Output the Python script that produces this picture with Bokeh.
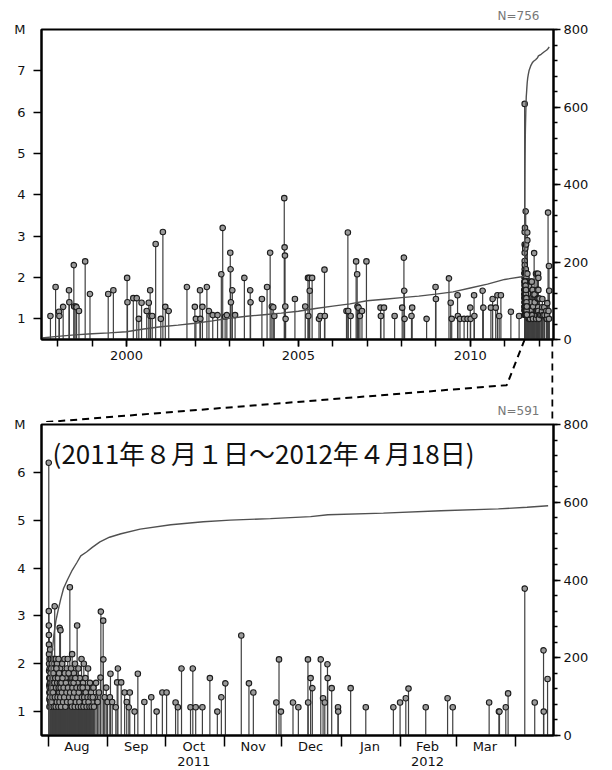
import datetime as dt
from bokeh.plotting import figure
from bokeh.layouts import column
from bokeh.models import Range1d, LinearAxis, FixedTicker, SingleIntervalTicker, Label, ColumnDataSource
from bokeh.embed import file_html
from bokeh.resources import INLINE

# ------------------------------------------------------------------ data
# events before the swarm: decimal year, magnitude
bg_year = [1997.79, 1997.94, 1998.04, 1998.05, 1998.16, 1998.33, 1998.34, 1998.47, 1998.48, 1998.53,
           1998.55, 1998.62, 1998.80, 1998.94, 1999.47, 1999.62, 2000.02, 2000.03, 2000.20, 2000.30,
           2000.36, 2000.44, 2000.59, 2000.65, 2000.69, 2000.70, 2000.75, 2000.85, 2001.00, 2001.06,
           2001.13, 2001.23, 2001.76, 2001.99, 2002.02, 2002.14, 2002.15, 2002.21, 2002.34, 2002.40,
           2002.51, 2002.65, 2002.76, 2002.80, 2002.87, 2002.92, 2003.02, 2003.03, 2003.04, 2003.08,
           2003.16, 2003.43, 2003.60, 2003.61, 2003.94, 2004.09, 2004.18, 2004.23, 2004.27, 2004.30,
           2004.59, 2004.60, 2004.61, 2004.62, 2004.63, 2004.90, 2005.20, 2005.28, 2005.29, 2005.32,
           2005.33, 2005.40, 2005.60, 2005.64, 2005.76, 2005.77, 2006.40, 2006.44, 2006.45, 2006.52,
           2006.68, 2006.71, 2006.72, 2006.75, 2006.79, 2006.85, 2006.98, 2007.39, 2007.40, 2007.49,
           2007.80, 2008.02, 2008.07, 2008.08, 2008.09, 2008.29, 2008.31, 2008.73, 2008.99, 2009.00,
           2009.38, 2009.43, 2009.46, 2009.63, 2009.64, 2009.70, 2009.82, 2009.92, 2010.00, 2010.01,
           2010.11, 2010.12, 2010.36, 2010.38, 2010.60, 2010.65, 2010.74, 2010.79, 2010.84, 2010.89,
           2011.18, 2011.42]
bg_mag = [1.07, 1.77, 1.17, 1.07, 1.29, 1.69, 1.40, 2.30, 1.30, 1.30,
          1.28, 1.19, 2.39, 1.60, 1.60, 1.69, 1.99, 1.40, 1.50, 1.50,
          1.00, 1.39, 1.19, 1.39, 1.69, 1.07, 1.07, 2.81, 1.00, 3.10,
          1.29, 1.19, 1.77, 1.29, 1.00, 1.69, 1.00, 1.29, 1.77, 1.19,
          1.09, 1.09, 2.08, 3.20, 1.05, 1.09, 2.60, 2.20, 1.40, 1.69,
          1.09, 1.99, 1.69, 1.40, 1.48, 1.77, 2.60, 1.30, 1.28, 1.07,
          3.92, 2.73, 2.53, 1.30, 1.00, 1.48, 1.30, 1.99, 1.07, 1.99,
          1.68, 1.99, 1.00, 1.07, 2.19, 1.07, 1.19, 3.09, 1.19, 1.07,
          2.39, 2.08, 1.30, 1.27, 1.07, 1.19, 2.39, 1.27, 1.07, 1.27,
          1.07, 1.27, 2.48, 1.68, 1.00, 1.07, 1.27, 1.00, 1.77, 1.48,
          1.98, 1.39, 1.00, 1.57, 1.07, 1.00, 1.00, 1.00, 1.27, 1.00,
          1.57, 1.07, 1.68, 1.27, 1.27, 1.48, 1.27, 1.57, 1.07, 1.57,
          1.17, 1.07]
# cumulative number before 2011-08-01
bg_cum_year = [1997.53, 1998.0, 1998.5, 1999.0, 1999.5, 2000.0, 2000.5, 2001.0, 2001.5, 2002.0,
               2002.5, 2003.0, 2003.5, 2004.0, 2004.5, 2005.0, 2005.5, 2006.0, 2006.5, 2007.0,
               2007.5, 2008.0, 2008.5, 2009.0, 2009.5, 2010.0, 2010.5, 2011.0, 2011.5, 2011.58]
bg_cum_n = [4, 8, 12, 15, 17, 20, 27, 33, 37, 42,
            48, 55, 60, 64, 68, 73, 80, 86, 92, 100,
            104, 108, 112, 117, 123, 133, 143, 155, 162, 164]

# events from 2011-08-01 00:00 (days since then), magnitude
sw_day = [0.30, 0.32, 0.35, 0.38, 0.41, 0.44, 0.47, 0.50, 0.53, 0.56, 0.59, 0.62, 0.65, 0.70, 0.80,
          0.90, 1.00, 1.10, 1.25, 1.40, 1.55, 1.70, 1.85, 2.00, 2.20, 2.40, 2.60, 2.80, 3.00, 3.40,
          3.60, 3.80, 4.00, 4.20, 4.40, 4.60, 4.80, 5.00, 5.20, 5.40, 5.60, 5.80, 6.00, 6.20, 6.40,
          6.60, 6.80, 7.00, 7.30, 7.60, 7.90, 8.20, 8.50, 8.80, 9.10, 9.40, 9.70, 10.0, 10.2, 10.5,
          10.8, 11.1, 11.3, 11.6, 11.9, 12.2, 12.5, 12.8, 13.1, 13.4, 13.7, 14.0, 14.3, 14.6, 15.1,
          15.4, 15.8, 16.1, 16.5, 16.9, 17.4, 17.8, 18.2, 18.6, 19.0, 19.4, 19.8, 20.3, 20.8, 21.3,
          21.8, 22.4, 23.0, 23.6, 24.3, 25.0, 25.8, 26.5, 27.3, 27.5, 28.7, 28.8, 29.5, 30.3, 31.0,
          32.2, 32.5, 33.4, 35.3, 36.0, 36.4, 38.1, 39.9, 41.0, 42.1, 42.6, 45.1, 46.8, 50.2, 53.8,
          56.6, 59.6, 61.8, 66.5, 67.7, 69.6, 74.3, 75.5, 77.0, 80.5, 84.4, 88.3, 90.4, 92.5, 100.8,
          104.8, 107.1, 119.1, 120.5, 121.5, 127.8, 130.6, 135.6, 135.7, 137.0, 137.9, 142.3, 143.5,
          144.4, 145.8, 145.9, 148.0, 151.3, 151.4, 157.9, 165.8, 180.2, 183.7, 186.7, 188.1, 197.1,
          208.5, 211.2, 230.2, 235.3, 235.6, 238.9, 240.1, 248.8, 254.0, 258.6, 258.7, 260.7,
          0.75, 0.85, 0.95, 1.05, 1.18, 1.32, 1.47, 1.62, 1.78, 1.92, 2.10, 2.30, 2.50, 2.70, 2.90,
          3.20, 3.50, 3.70, 3.90, 4.10, 4.30, 4.50, 4.70, 4.90, 5.10, 5.30, 5.50, 5.70, 5.90, 6.10,
          6.30, 6.50, 6.70, 6.90, 7.15, 7.45, 7.75, 8.05, 8.35, 8.65, 8.95, 9.25, 9.55, 9.85, 10.35,
          10.65, 10.95, 11.45, 11.75, 12.05, 12.35, 12.65, 12.95, 13.25, 13.55, 13.85, 14.15, 14.45,
          14.80, 15.25, 15.60, 15.95, 16.30, 16.70, 17.10, 17.60, 18.00, 18.40, 18.80, 19.20, 19.60,
          20.05, 20.55, 21.05, 21.55, 22.10, 22.70, 23.30, 23.90]
sw_mag = [6.20, 3.10, 2.80, 2.60, 2.40, 2.20, 2.00, 1.85, 1.70, 1.55, 1.40, 1.25, 1.10, 2.10, 1.90,
          1.60, 2.30, 1.40, 1.80, 2.10, 1.30, 1.70, 2.00, 1.50, 1.90, 2.10, 1.20, 1.60, 2.10, 3.20,
          1.90, 1.40, 2.10, 1.70, 1.30, 2.00, 1.50, 1.80, 1.20, 2.10, 1.60, 1.40, 2.75, 1.90, 2.70,
          1.50, 1.80, 1.30, 2.00, 1.60, 1.80, 1.20, 2.10, 1.50, 1.70, 1.30, 1.90, 1.40, 2.10, 1.60,
          1.20, 1.80, 3.60, 1.50, 1.90, 1.30, 2.20, 1.60, 1.40, 1.80, 1.20, 2.00, 1.50, 1.30, 2.80,
          1.60, 1.90, 1.30, 1.70, 1.40, 2.10, 1.20, 1.60, 2.00, 1.40, 1.70, 1.20, 1.50, 1.90, 1.30,
          1.60, 1.40, 1.20, 1.50, 1.30, 1.60, 1.20, 1.40, 1.71, 3.09, 2.90, 2.09, 1.30, 1.50, 1.20,
          1.30, 1.79, 1.20, 1.09, 1.61, 1.90, 1.61, 1.40, 1.20, 1.09, 1.40, 1.00, 1.79, 1.20, 1.30,
          1.00, 1.40, 1.40, 1.19, 1.09, 1.90, 1.09, 1.90, 1.09, 1.09, 1.70, 1.00, 1.30, 1.59, 2.59,
          1.59, 1.40, 1.19, 2.09, 1.00, 1.19, 1.09, 2.09, 1.19, 1.70, 1.49, 2.09, 1.28,
          1.19, 1.99, 1.70, 1.49, 1.09, 1.00, 1.49, 1.09, 1.09, 1.19, 1.28, 1.48, 1.09,
          1.28, 1.09, 1.19, 1.00, 1.00, 1.09, 1.38, 3.57, 1.19, 2.28, 1.00, 1.68,
          1.50, 1.30, 1.70, 1.20, 1.60, 1.10, 1.50, 1.90, 1.20, 1.60, 1.30, 1.70, 1.40, 1.80, 1.10,
          1.60, 1.30, 1.70, 1.10, 1.50, 1.90, 1.20, 1.60, 1.30, 1.70, 1.10, 1.50, 1.80, 1.20, 1.60,
          1.30, 1.50, 1.10, 1.60, 1.40, 1.70, 1.20, 1.50, 1.30, 1.80, 1.10, 1.60, 1.40, 1.20, 1.50,
          1.80, 1.30, 1.40, 1.20, 1.60, 1.10, 1.50, 1.30, 1.60, 1.40, 1.10, 1.70, 1.20,
          1.50, 1.30, 1.10, 1.40, 1.20, 1.50, 1.10, 1.30, 1.50, 1.10, 1.30, 1.20, 1.40,
          1.10, 1.30, 1.20, 1.10, 1.30, 1.10, 1.30, 1.10]
# cumulative number since 2011-08-01
sw_cum_day = [0, 0.3, 0.5, 1, 2, 3, 4, 5, 6.5, 8, 10, 12.5, 15, 17, 20, 23, 27, 32, 38, 48,
              64, 81, 95, 116, 137, 146, 175, 205, 235, 250, 261]
sw_cum_n = [0, 1, 60, 130, 210, 260, 295, 318, 350, 378, 400, 425, 445, 462, 472, 484, 498, 510, 519, 531,
            542, 550, 554, 558, 563, 568, 572, 578, 583, 587, 591]

n_total = 756
n_swarm = 591
swarm_start = dt.datetime(2011, 8, 1)

mag_ticks_top = [1, 2, 3, 4, 5, 6, 7]
mag_ticks_bot = [1, 2, 3, 4, 5, 6]
year_ticks = [2000, 2005, 2010]
year_minor = list(range(1998, 2013))
month_start = [0, 31, 61, 92, 122, 153, 184, 213, 244]
month_mid = [15, 46, 76, 107, 137, 168, 198, 228]
month_names = ["Aug", "Sep", "Oct", "Nov", "Dec", "Jan", "Feb", "Mar"]
year_pos = [76, 198]
year_names = ["2011", "2012"]
period_text = "(2011年８月１日～2012年４月18日)"

# ------------------------------------------------------------------ helpers
def dec_year(d):
    y0 = dt.datetime(d.year, 1, 1)
    y1 = dt.datetime(d.year + 1, 1, 1)
    return d.year + (d - y0) / (y1 - y0)

sw_year = [dec_year(swarm_start + dt.timedelta(days=x)) for x in sw_day]
sw_cum_year = [dec_year(swarm_start + dt.timedelta(days=x)) for x in sw_cum_day]
start_year = dec_year(swarm_start)
n_before = bg_cum_n[-1]

FONT = "DejaVu Sans"
STEM = "#404040"
W = 604
LB, RB = 41, 51

def style_axis(ax, size="13px"):
    ax.major_label_text_font = FONT
    ax.major_label_text_font_size = size
    ax.major_label_text_color = "#111111"
    ax.axis_line_width = 2
    ax.axis_line_color = "black"
    ax.major_tick_line_color = "black"
    ax.major_tick_line_width = 1.5
    ax.minor_tick_line_color = "black"
    ax.minor_tick_line_width = 1.5
    ax.major_tick_in = 0
    ax.minor_tick_in = 0

def add_events(p, xs, ms, cx, cn):
    src = ColumnDataSource(dict(x=xs, m=ms))
    p.segment(x0="x", y0=0.0, x1="x", y1="m", source=src, line_color=STEM, line_width=1.2)
    p.scatter("x", "m", source=src, size=5.5, marker="circle", fill_color="#9a9a9a",
              line_color="#1c1c1c", line_width=1.1)
    p.line(cx, cn, y_range_name="cum", line_color="#505050", line_width=1.4)

def left_axis(p, ticks, top_value):
    ax = p.left[0]
    ax.ticker = FixedTicker(ticks=ticks + [top_value], minor_ticks=ticks)
    ax.major_label_overrides = {top_value: "M"}
    style_axis(ax)
    ax.major_tick_out = 0
    ax.major_tick_line_color = None
    ax.minor_tick_out = 8
    ax.major_label_standoff = 8

def right_axis(p):
    ax = LinearAxis(y_range_name="cum", ticker=SingleIntervalTicker(interval=200, num_minor_ticks=5))
    style_axis(ax)
    ax.major_tick_out = 7
    ax.minor_tick_out = 4
    ax.major_label_standoff = 3
    p.add_layout(ax, "right")

def n_title(p, text):
    p.title.text = text
    p.title.align = "right"
    p.title.offset = 14
    p.title.standoff = 13
    p.title.text_font = FONT
    p.title.text_font_size = "12px"
    p.title.text_font_style = "normal"
    p.title.text_color = "#777777"

# ------------------------------------------------------------------ top panel
top_x0, top_x1 = 1997.53, 2012.42
top = figure(width=W, height=369, x_range=Range1d(top_x0, top_x1), y_range=Range1d(0.5, 8.0),
             output_backend="svg", toolbar_location=None,
             min_border_left=LB, min_border_right=RB, min_border_top=29, min_border_bottom=30)
top.extra_y_ranges = {"cum": Range1d(0, 800)}
top.grid.visible = False
top.outline_line_color = "black"
top.outline_line_width = 2
n_title(top, f"N={n_total}")

add_events(top, bg_year + sw_year, bg_mag + sw_mag,
           bg_cum_year + sw_cum_year, bg_cum_n + [n_before + n for n in sw_cum_n])

xa = top.below[0]
xa.ticker = FixedTicker(ticks=year_ticks, minor_ticks=year_minor)
style_axis(xa)
xa.major_tick_out = 7
xa.minor_tick_out = 7
xa.major_label_standoff = 4

left_axis(top, mag_ticks_top, 8)
right_axis(top)

# ------------------------------------------------------------------ connector (zoom lines)
conn = figure(width=W, height=83, x_range=top.x_range, y_range=Range1d(0, 1),
              x_axis_type=None, y_axis_type=None, output_backend="svg", toolbar_location=None,
              min_border_left=LB, min_border_right=RB, min_border_top=0, min_border_bottom=0,
              outline_line_color=None, background_fill_alpha=0, border_fill_alpha=0,
              margin=(-30, 0, 0, 0))
conn.line([start_year, 2011.06, top_x0], [1.0, 0.45, 0.0], line_color="black", line_width=2,
          line_dash="7 5")
conn.line([top_x1 - 0.03, top_x1 - 0.03], [1.0, 0.0], line_color="black", line_width=2,
          line_dash="7 5")

# ------------------------------------------------------------------ bottom panel
bot = figure(width=W, height=375, x_range=Range1d(-3.5, 263.8), y_range=Range1d(0.5, 7.0),
             output_backend="svg", toolbar_location=None,
             min_border_left=LB, min_border_right=RB, min_border_top=27, min_border_bottom=35,
             border_fill_alpha=0, margin=(-27, 0, 0, 0))
bot.extra_y_ranges = {"cum": Range1d(0, 800)}
bot.grid.visible = False
bot.outline_line_color = "black"
bot.outline_line_width = 2
n_title(bot, f"N={n_swarm}")

add_events(bot, sw_day, sw_mag, sw_cum_day, sw_cum_n)

bx = bot.below[0]
bx.ticker = FixedTicker(ticks=month_mid, minor_ticks=month_start)
bx.major_label_overrides = dict(zip(month_mid, month_names))
style_axis(bx)
bx.major_tick_out = 0
bx.major_tick_line_color = None
bx.minor_tick_out = 11
bx.major_label_standoff = -8

bx2 = LinearAxis(ticker=FixedTicker(ticks=year_pos), major_label_overrides=dict(zip(year_pos, year_names)))
style_axis(bx2)
bx2.axis_line_color = None
bx2.major_tick_line_color = None
bx2.minor_tick_line_color = None
bx2.major_tick_out = 0
bx2.major_label_standoff = 0
bot.add_layout(bx2, "below")

left_axis(bot, mag_ticks_bot, 7)
right_axis(bot)

bot.add_layout(Label(x=2.3, y=6.41, text=period_text, text_font="Noto Sans CJK JP",
                     text_font_size="26px", text_color="#111111", text_align="left",
                     text_baseline="middle"))

layout = column(top, conn, bot, spacing=0)
open("out.html", "w").write(file_html(layout, INLINE))
